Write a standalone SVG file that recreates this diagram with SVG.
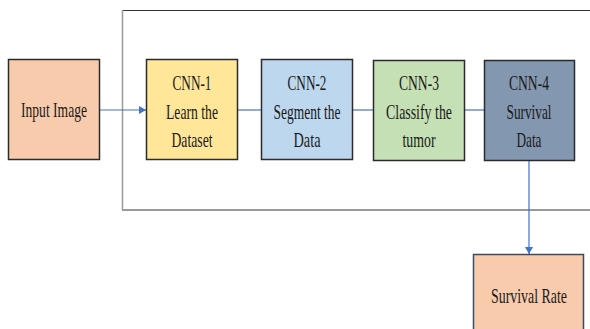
<svg xmlns="http://www.w3.org/2000/svg" width="590" height="329" viewBox="0 0 590 329">
<style>
.box{stroke:#2b2b2b;stroke-width:1.5}
.t{font-family:"Liberation Serif","Times New Roman",serif;font-size:22px;fill:#1a1a1a;text-anchor:middle}
.c{stroke:#4472C4;stroke-width:1.2;fill:none}
</style>
<defs>
<marker id="ah" markerWidth="8" markerHeight="8" refX="7" refY="4" orient="auto" markerUnits="userSpaceOnUse">
<path d="M0,0 L7,4 L0,8 Z" fill="#4472C4"/>
</marker>
</defs>
<rect width="590" height="329" fill="#fff"/>
<g id="frame">
<line x1="122" y1="10.5" x2="590" y2="10.5" stroke="#333" stroke-width="1"/>
<line x1="122.5" y1="10" x2="122.5" y2="210" stroke="#999" stroke-width="1.5"/>
<line x1="122" y1="210" x2="590" y2="210" stroke="#999" stroke-width="2"/>
</g>
<g id="connectors">
<line class="c" x1="100" y1="110" x2="146" y2="110" marker-end="url(#ah)"/>
<line class="c" x1="237" y1="110" x2="261" y2="110"/>
<line class="c" x1="352" y1="110" x2="373" y2="110"/>
<line class="c" x1="464" y1="110" x2="484" y2="110"/>
<line class="c" x1="529" y1="160" x2="529" y2="254" marker-end="url(#ah)"/>
</g>
<g id="input">
<rect class="box" x="8.5" y="59.5" width="91" height="100" fill="#F8CBAD"/>
<text class="t" x="54" y="117" textLength="66" lengthAdjust="spacingAndGlyphs">Input Image</text>
</g>
<g id="cnn1">
<rect class="box" x="146.5" y="59.5" width="91" height="100" fill="#FFE699"/>
<text class="t" x="192" y="90" textLength="39" lengthAdjust="spacingAndGlyphs">CNN-1</text>
<text class="t" x="192" y="119" textLength="52" lengthAdjust="spacingAndGlyphs">Learn the</text>
<text class="t" x="192" y="147" textLength="41" lengthAdjust="spacingAndGlyphs">Dataset</text>
</g>
<g id="cnn2">
<rect class="box" x="261.5" y="59.5" width="91" height="100" fill="#BDD7EE"/>
<text class="t" x="307" y="90" textLength="39" lengthAdjust="spacingAndGlyphs">CNN-2</text>
<text class="t" x="307" y="119" textLength="67" lengthAdjust="spacingAndGlyphs">Segment the</text>
<text class="t" x="307" y="147" textLength="27" lengthAdjust="spacingAndGlyphs">Data</text>
</g>
<g id="cnn3">
<rect class="box" x="373.5" y="60.5" width="91" height="100" fill="#C5E0B4"/>
<text class="t" x="419" y="90" textLength="40" lengthAdjust="spacingAndGlyphs">CNN-3</text>
<text class="t" x="419" y="119" textLength="66" lengthAdjust="spacingAndGlyphs">Classify the</text>
<text class="t" x="419" y="147" textLength="33" lengthAdjust="spacingAndGlyphs">tumor</text>
</g>
<g id="cnn4">
<rect class="box" x="484.5" y="60.5" width="90" height="100" fill="#8497B0"/>
<text class="t" x="529" y="90" textLength="40" lengthAdjust="spacingAndGlyphs">CNN-4</text>
<text class="t" x="529" y="119" textLength="45" lengthAdjust="spacingAndGlyphs">Survival</text>
<text class="t" x="529" y="147" textLength="25" lengthAdjust="spacingAndGlyphs">Data</text>
</g>
<g id="survival">
<path d="M473.5,330 V254.5 H583.5 V330" fill="#F8CBAD" stroke="#3B4A6B" stroke-width="1.5"/>
<text class="t" x="529" y="303" textLength="76" lengthAdjust="spacingAndGlyphs">Survival Rate</text>
</g>
</svg>
